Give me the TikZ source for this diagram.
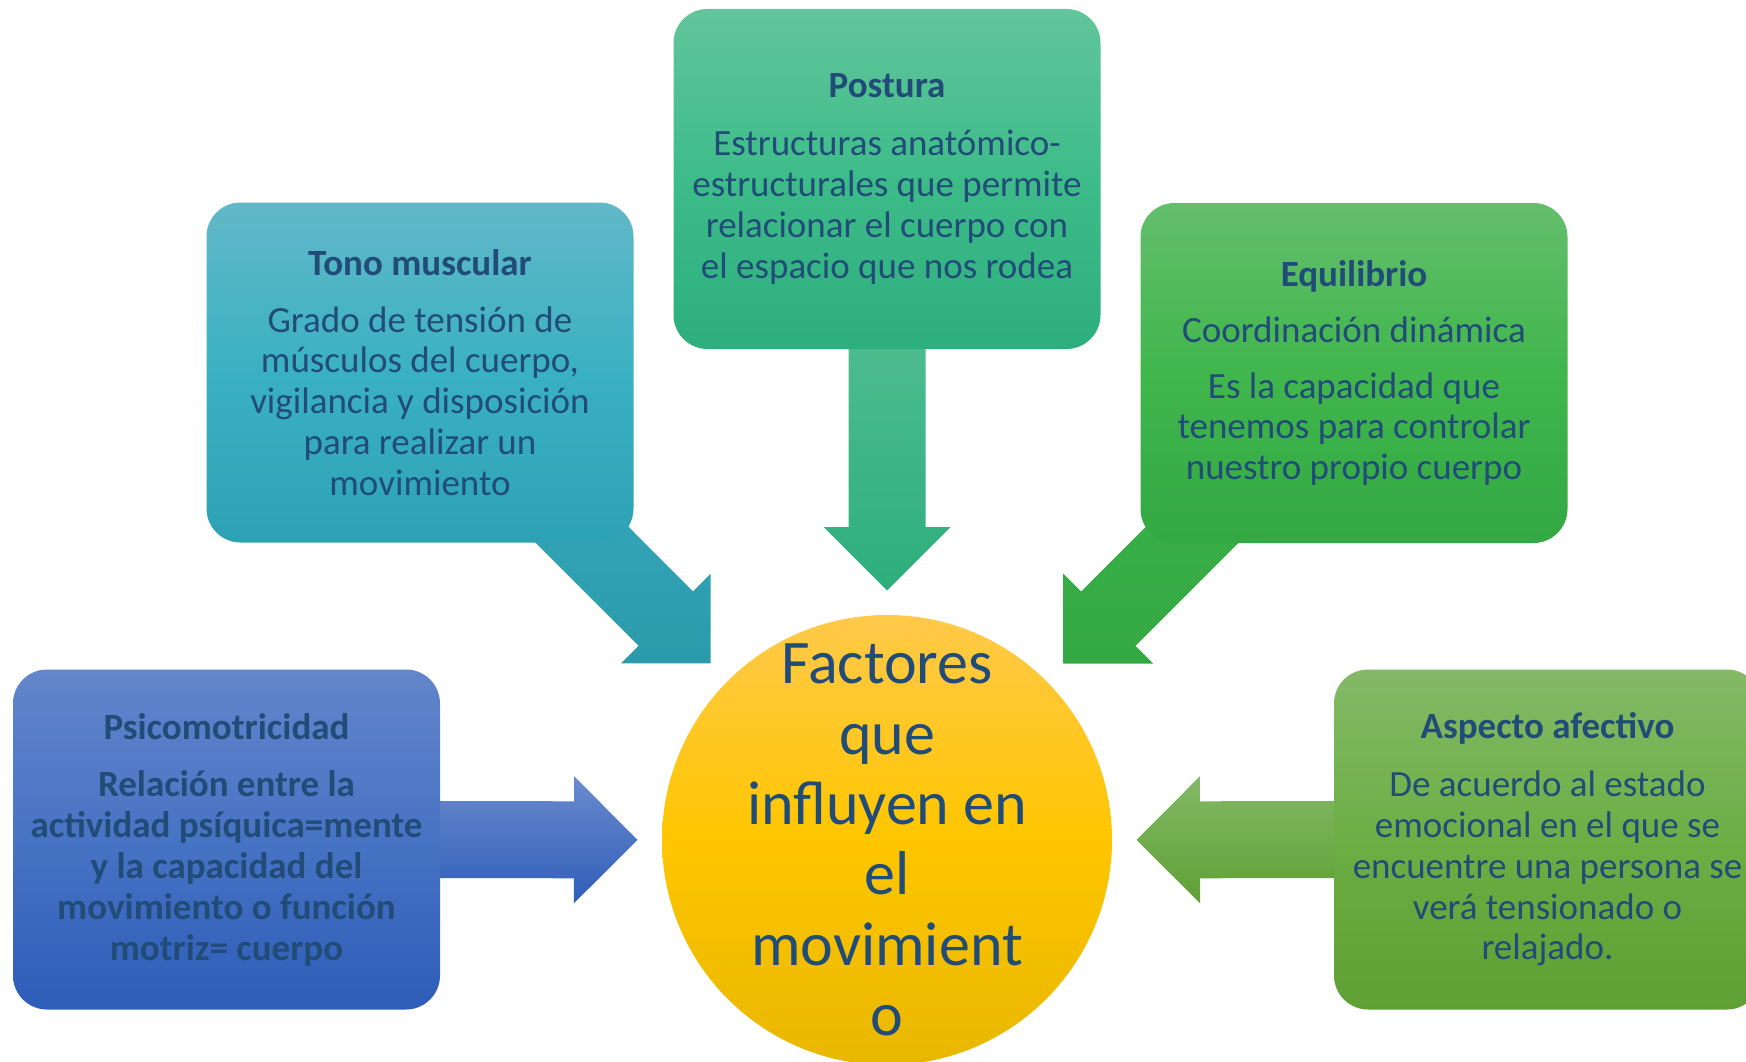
\documentclass[tikz,border=0pt]{standalone}
\usepackage{fontspec}
\setmainfont{Carlito}
\usetikzlibrary{calc,backgrounds}
\definecolor{txt}{RGB}{33,76,120}
\definecolor{psT}{HTML}{6385CB}\definecolor{psM}{HTML}{4773C4}\definecolor{psB}{HTML}{2E5DB8}
\definecolor{toT}{HTML}{61B8C8}\definecolor{toM}{HTML}{3AB1C2}\definecolor{toB}{HTML}{2DA2B4}
\definecolor{poT}{HTML}{62C59B}\definecolor{poM}{HTML}{3DBC89}\definecolor{poB}{HTML}{2DAE7D}
\definecolor{eqT}{HTML}{64BE6C}\definecolor{eqM}{HTML}{40B64C}\definecolor{eqB}{HTML}{33A843}
\definecolor{asT}{HTML}{84B967}\definecolor{asM}{HTML}{6DAE45}\definecolor{asB}{HTML}{5EA033}
\definecolor{ciT}{HTML}{FFC94A}\definecolor{ciM}{HTML}{FFC600}\definecolor{ciB}{HTML}{E8B700}
\newcommand\fatarrow[3]{% #1 style, #2 source node, #3 target node
  \coordinate (fa-t) at ($(#3.center)!249.5pt!(#2.center)$);
  \coordinate (fa-b) at ($(fa-t)!63.5pt!(#2.center)$);
  \path[#1] ($(#2.center)!38.5pt!90:(fa-t)$) -- ($(fa-b)!38.5pt!90:(fa-t)$)
    -- ($(fa-b)!63.5pt!90:(fa-t)$) -- (fa-t) -- ($(fa-b)!63.5pt!-90:(fa-t)$)
    -- ($(fa-b)!38.5pt!-90:(fa-t)$) -- ($(#2.center)!38.5pt!-90:(fa-t)$) -- cycle;
}
\tikzset{
  box/.style={rounded corners=34pt, minimum width=427pt, minimum height=340pt,
    inner sep=0pt, align=center, text=txt, font=\fontsize{37}{40.8}\selectfont},
  hub/.style={circle, minimum size=450pt, inner sep=0pt,
    top color=ciT, bottom color=ciB, middle color=ciM},
  hubtext/.style={inner sep=0pt, align=center, text=txt, font=\fontsize{62}{70.3}\selectfont},
}
\begin{document}
\begin{tikzpicture}[x=1pt,y=-1pt]
\useasboundingbox (0,0) rectangle (1746,1062);
\node[box, top color=psT, bottom color=psB, middle color=psM] (psico) at (226.5,839.5)
  {\bfseries Psicomotricidad\\[17pt]\bfseries Relación entre la\\\bfseries actividad psíquica=mente\\\bfseries y la capacidad del\\\bfseries movimiento o función\\\bfseries motriz= cuerpo};
\node[box, top color=toT, bottom color=toB, middle color=toM] (tono) at (420,372.5)
  {\bfseries Tono muscular\\[16pt]Grado de tensión de\\músculos del cuerpo,\\vigilancia y disposición\\para realizar un\\movimiento};
\node[box, top color=poT, bottom color=poB, middle color=poM] (post) at (887,179)
  {\bfseries Postura\\[17pt]Estructuras anatómico-\\estructurales que permite\\relacionar el cuerpo con\\el espacio que nos rodea};
\node[box, top color=eqT, bottom color=eqB, middle color=eqM] (equi) at (1354,373)
  {\bfseries Equilibrio\\[15pt]Coordinación dinámica\\[15pt]Es la capacidad que\\tenemos para controlar\\nuestro propio cuerpo};
\node[box, top color=asT, bottom color=asB, middle color=asM] (asp) at (1547.5,839.5)
  {\bfseries Aspecto afectivo\\[17pt]De acuerdo al estado\\emocional en el que se\\encuentre una persona se\\verá tensionado o\\relajado.};
\node[hub] (circ) at (887,840) {};
\node[hubtext] (circlabel) at (circ.center) {Factores\\que\\influyen en\\el\\movimient\\o};
\begin{scope}[on background layer]
\fatarrow{top color=psT!95!white, bottom color=psB}{psico}{circ}
\fatarrow{top color=toM, bottom color=toB!95!black}{tono}{circ}
\fatarrow{top color=poT, bottom color=poB}{post}{circ}
\fatarrow{top color=eqM, bottom color=eqB}{equi}{circ}
\fatarrow{top color=asT, bottom color=asB}{asp}{circ}
\end{scope}
\end{tikzpicture}
\end{document}
